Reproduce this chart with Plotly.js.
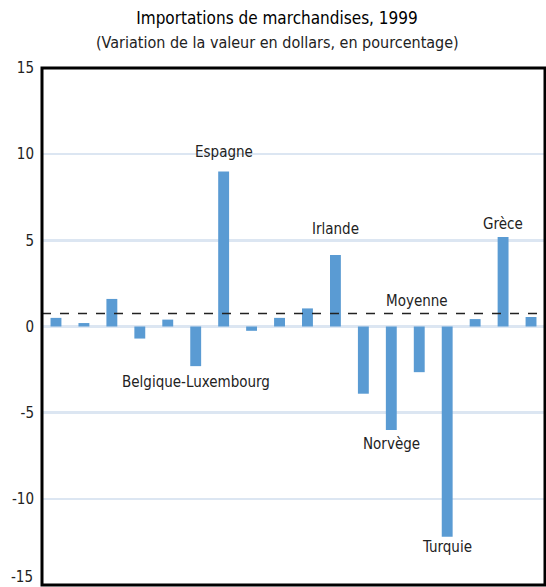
<!DOCTYPE html>
<html>
<head>
<meta charset="utf-8">
<script src="https://cdn.plot.ly/plotly-3.0.1.min.js"></script>
<style>html,body{margin:0;padding:0;background:#fff;}#chart{width:546px;height:587px;}</style>
</head>
<body>
<div id="chart"></div>
<script>
// Categories (order as in the chart; unlabeled bars have placeholder names)
const categories = ["Pays A", "Pays B", "Pays C", "Pays D", "Pays E", "Belgique-Luxembourg",
  "Espagne", "Pays H", "Pays I", "Pays J", "Irlande", "Pays L", "Norvège", "Pays N",
  "Turquie", "Pays P", "Grèce", "Pays R"];
const values = [0.5, 0.2, 1.6, -0.7, 0.4, -2.3, 9.0, -0.25, 0.5, 1.05, 4.15, -3.9, -6.0, -2.65, -12.2, 0.43, 5.2, 0.55];
const average = 0.75;
const yTicks = [-15, -10, -5, 0, 5, 10, 15];
// Labels shown on the chart: [category, y position of label, text]
const labels = [
  ["Espagne", 10.1, "Espagne"],
  ["Irlande", 5.65, "Irlande"],
  ["Grèce", 5.95, "Grèce"],
  ["Belgique-Luxembourg", -3.2, "Belgique-Luxembourg"],
  ["Norvège", -6.8, "Norvège"],
  ["Turquie", -12.8, "Turquie"]
];

const FONT = '"DejaVu Sans Condensed", "Liberation Sans Narrow", Arial, sans-serif';
const TXT = '#222';

const trace = {
  type: 'bar',
  x: categories,
  y: values,
  marker: {color: '#5a9bd3'},
  hoverinfo: 'x+y',
  cliponaxis: false
};

const PH = 587 - 68 - 2;
const annotations = labels.map(l => ({
  x: l[0], y: l[1], xref: 'x', yref: 'y', text: l[2], showarrow: false,
  xanchor: 'center', yanchor: 'middle',
  font: {family: FONT, size: 15, color: TXT}
}));
annotations.push({
  x: (417-42)/503, xref: 'paper', xanchor: 'center', y: average + 0.75, yref: 'y', yanchor: 'middle',
  text: 'Moyenne', showarrow: false,
  font: {family: FONT, size: 15, color: TXT}
});
annotations.push({
  x: (277-42)/503, xref: 'paper', xanchor: 'center', y: 1 + (68-43)/PH, yref: 'paper', yanchor: 'middle',
  text: '(Variation de la valeur en dollars, en pourcentage)',
  showarrow: false, font: {family: FONT, size: 16, color: TXT}
});
// lowest tick label sits at the bottom edge of the page
annotations.push({
  x: 0, xref: 'paper', xanchor: 'right', xshift: -7, y: yTicks[0], yref: 'y', yanchor: 'bottom',
  yshift: -3,
  text: String(yTicks[0]), showarrow: false, font: {family: FONT, size: 15, color: TXT}
});

const layout = {
  width: 546, height: 587,
  margin: {l: 42, r: 1, t: 68, b: 2},
  paper_bgcolor: '#fff', plot_bgcolor: '#fff',
  showlegend: false,
  bargap: 0.61,
  title: {text: 'Importations de marchandises, 1999', x: 277/546, xanchor: 'center', xref: 'container',
    y: 1 - 18/587, yanchor: 'middle', yref: 'container',
    font: {family: FONT, size: 17, color: '#000'}},
  xaxis: {
    type: 'category', showticklabels: false, ticks: '', showgrid: false, zeroline: false,
    showline: false, fixedrange: true
  },
  yaxis: {
    range: [-15, 15], tickvals: yTicks.slice(1), ticktext: yTicks.slice(1).map(String), ticks: '',
    showgrid: true, gridcolor: '#dce6f2', gridwidth: 2.5, zeroline: false,
    showline: false,
    tickfont: {family: FONT, size: 15, color: TXT}, ticklabelstandoff: 7, fixedrange: true
  },
  shapes: [{
    type: 'line', xref: 'paper', x0: 0, x1: 1, yref: 'y', y0: average, y1: average,
    line: {color: '#222', width: 1.5, dash: 'dash'}
  }, {
    type: 'rect', xref: 'paper', yref: 'paper', x0: 0, x1: 1, y0: 0, y1: 1,
    line: {color: '#000', width: 3}, fillcolor: 'rgba(0,0,0,0)', layer: 'above'
  }],
  annotations: annotations
};

Plotly.newPlot('chart', [trace], layout, {displayModeBar: false, staticPlot: true});
</script>
</body>
</html>
